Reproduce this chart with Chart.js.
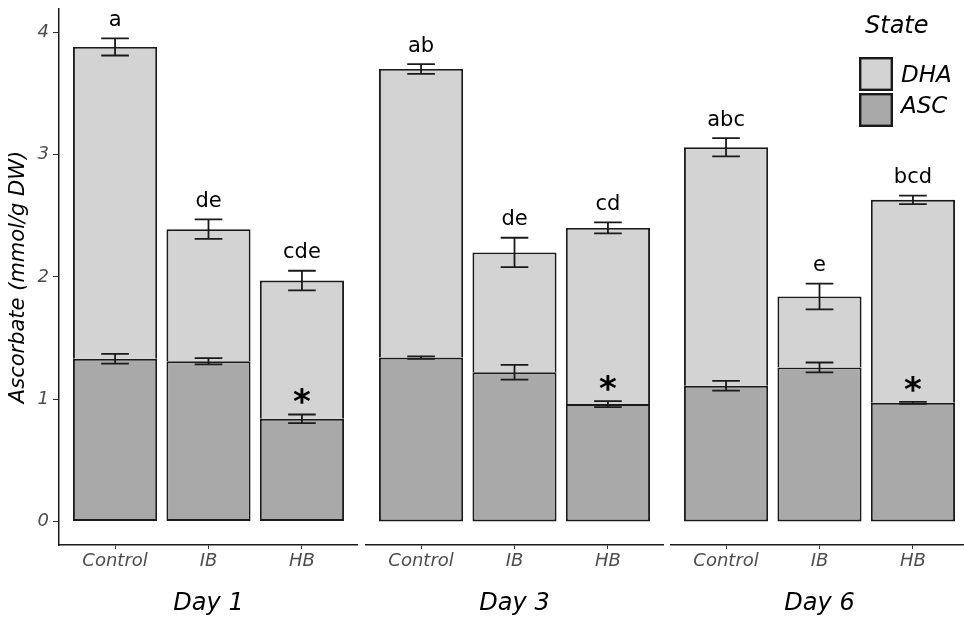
<!DOCTYPE html>
<html>
<head>
<meta charset="utf-8">
<script src="https://cdn.jsdelivr.net/npm/chart.js@4.4.1/dist/chart.umd.min.js"></script>
<style>
  html, body { margin: 0; padding: 0; background: #fff; overflow: hidden; }
  #wrap { position: relative; width: 964px; height: 621px; overflow: hidden; }
  canvas { position: absolute; top: 0; }
</style>
</head>
<body>
<div id="wrap">
  <canvas id="panel0" width="358" height="621" style="left:0px"></canvas>
  <canvas id="panel1" width="299" height="621" style="left:365px"></canvas>
  <canvas id="panel2" width="299" height="621" style="left:670px"></canvas>
</div>
<script>
// data (mmol/g DW)
const days = ['Day 1', 'Day 3', 'Day 6'];
const treatments = ['Control', 'IB', 'HB'];
const ascMean = [[1.33, 1.31, 0.84], [1.34, 1.22, 0.96], [1.11, 1.26, 0.97]];
const dhaMean = [[2.55, 1.08, 1.13], [2.36, 0.98, 1.44], [1.95, 0.58, 1.66]];
const ascErr = [[0.04, 0.025, 0.035], [0.01, 0.06, 0.025], [0.04, 0.04, 0.008]];
const totalErr = [[0.07, 0.08, 0.08], [0.04, 0.12, 0.045], [0.075, 0.105, 0.035]];
const letters = [['a', 'de', 'cde'], ['ab', 'de', 'cd'], ['abc', 'e', 'bcd']];
const stars = [[false, false, true], [false, false, true], [false, false, true]];
const yTicks = [0, 1, 2, 3, 4];
const yTickLabels = ['0', '1', '2', '3', '4'];

const dhaColor = '#d3d3d3';
const ascColor = '#a9a9a9';
const ink = '#1a1a1a';
const tickColor = '#4d4d4d';
const whisker = 0.148;

function overlay(d, withLegend) {
  return {
    id: 'overlay',
    afterDatasetsDraw(chart) {
      const { ctx, scales: { x, y } } = chart;
      ctx.save();
      ctx.strokeStyle = ink;
      ctx.lineWidth = 1.8;
      treatments.forEach((t, i) => {
        const xc = x.getPixelForValue(i + 1);
        const hw = x.getPixelForValue(i + 1 + whisker) - xc;
        const total = ascMean[d][i] + dhaMean[d][i];
        [[ascMean[d][i], ascErr[d][i]], [total, totalErr[d][i]]].forEach(([m, e]) => {
          const y1 = y.getPixelForValue(m + e);
          const y2 = y.getPixelForValue(m - e);
          ctx.beginPath();
          ctx.moveTo(xc - hw, y1); ctx.lineTo(xc + hw, y1);
          ctx.moveTo(xc, y1); ctx.lineTo(xc, y2);
          ctx.moveTo(xc - hw, y2); ctx.lineTo(xc + hw, y2);
          ctx.stroke();
        });
        ctx.fillStyle = '#000';
        ctx.textAlign = 'center';
        ctx.textBaseline = 'alphabetic';
        ctx.font = '21px "DejaVu Sans"';
        ctx.fillText(letters[d][i], xc, y.getPixelForValue(total + totalErr[d][i]) - 12.5);
        if (stars[d][i]) {
          ctx.font = 'bold 34px "DejaVu Sans"';
          const m = ctx.measureText('*');
          const top = y.getPixelForValue(ascMean[d][i] + ascErr[d][i]);
          ctx.fillText('*', xc, top - 10 - m.actualBoundingBoxDescent);
        }
      });
      if (withLegend) {
        ctx.textAlign = 'left';
        ctx.fillStyle = '#000';
        ctx.font = 'italic 24px "DejaVu Sans"';
        ctx.fillText('State', 195, 33);
        const keys = [['DHA', dhaColor, 57, 82.4], ['ASC', ascColor, 93, 113.4]];
        keys.forEach(([lab, col, ky, by]) => {
          ctx.fillStyle = col;
          ctx.fillRect(189, ky, 34, 34);
          ctx.strokeStyle = ink;
          ctx.lineWidth = 2.4;
          ctx.strokeRect(190.2, ky + 1.2, 31.6, 31.6);
          ctx.fillStyle = '#000';
          ctx.font = 'italic 23px "DejaVu Sans"';
          ctx.fillText(lab, 231, by);
        });
      }
      ctx.restore();
    }
  };
}

function makePanel(d) {
  const showY = d === 0;
  new Chart(document.getElementById('panel' + d), {
    type: 'bar',
    data: {
      datasets: [{
        label: 'ASC',
        data: treatments.map((t, i) => ({ x: i + 1, y: ascMean[d][i] })),
        backgroundColor: ascColor,
        borderColor: ink,
        borderWidth: 1.9,
        borderSkipped: false
      }, {
        label: 'DHA',
        data: treatments.map((t, i) => ({ x: i + 1, y: dhaMean[d][i] })),
        backgroundColor: dhaColor,
        borderColor: ink,
        borderWidth: 1.9,
        borderSkipped: 'bottom'
      }]
    },
    options: {
      responsive: false,
      animation: false,
      devicePixelRatio: 1,
      layout: { padding: { top: 9, left: 0, right: 0, bottom: 0 } },
      barPercentage: 0.9,
      categoryPercentage: 1,
      plugins: { legend: { display: false }, tooltip: { enabled: false } },
      scales: {
        x: {
          type: 'linear',
          min: 0.4,
          max: 3.6,
          offset: false,
          stacked: true,
          afterBuildTicks: s => { s.ticks = treatments.map((t, i) => ({ value: i + 1 })); },
          afterFit: s => { s.height = 76; s.paddingLeft = 0; s.paddingRight = 0; },
          ticks: {
            callback: (v, i) => treatments[i],
            autoSkip: false,
            maxRotation: 0,
            padding: 2,
            color: tickColor,
            font: { family: 'DejaVu Sans', style: 'italic', size: 18 }
          },
          grid: { offset: false, drawOnChartArea: false, drawTicks: true, tickLength: 4, color: '#333' },
          border: { display: true, color: ink, width: 1.5 },
          title: {
            display: true,
            text: days[d],
            color: '#000',
            padding: { top: 0, bottom: 3 },
            font: { family: 'DejaVu Sans', style: 'italic', size: 24, lineHeight: 1.2 }
          }
        },
        y: {
          display: showY,
          min: -0.192,
          max: 4.19,
          stacked: true,
          afterBuildTicks: s => { s.ticks = yTicks.map(v => ({ value: v })); },
          afterFit: s => { s.width = showY ? 59 : 0; s.paddingTop = 0; s.paddingBottom = 0; },
          ticks: {
            callback: (v, i) => yTickLabels[i],
            padding: 4,
            color: tickColor,
            font: { family: 'DejaVu Sans', style: 'italic', size: 18 }
          },
          grid: { drawOnChartArea: false, drawTicks: true, tickLength: 6, color: '#333' },
          border: { display: true, color: ink, width: 1.5 },
          title: {
            display: true,
            text: 'Ascorbate (mmol/g DW)',
            color: '#000',
            padding: { top: 6, bottom: 0 },
            font: { family: 'DejaVu Sans', style: 'italic', size: 21, lineHeight: 1.2 }
          }
        }
      }
    },
    plugins: [overlay(d, d === 2)]
  });
}

days.forEach((day, d) => makePanel(d));
</script>
</body>
</html>
